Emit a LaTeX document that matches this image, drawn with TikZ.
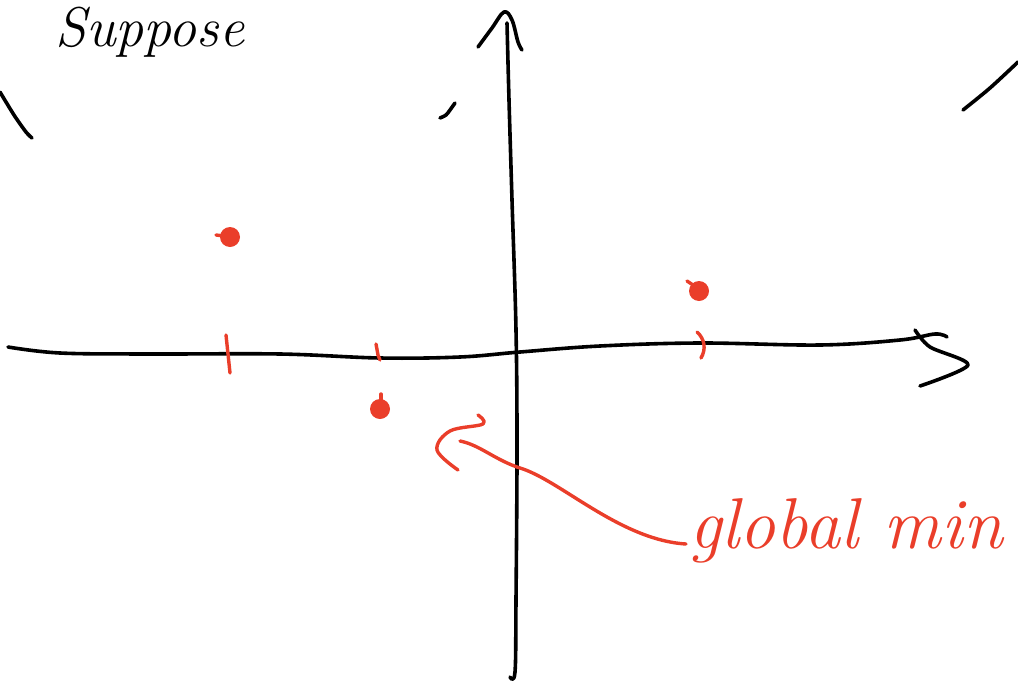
\documentclass[tikz,border=0pt]{standalone}
\usepackage{tikz}
\definecolor{inkred}{RGB}{234,62,42}
\usetikzlibrary{positioning}

\begin{document}
\begin{tikzpicture}[x=1pt, y=-1pt, line cap=round, line join=round,
  ink/.style={line width=3.6pt, black},
  redink/.style={line width=3.4pt, inkred}]
  \useasboundingbox (0,0) rectangle (1018,683);
  % Heading at the top
  \node[anchor=base west, font=\itshape\fontsize{56}{56}\selectfont] (title) at (52,46) {Suppose};
  % Stray strokes of the curve
  \draw[ink] plot[smooth] coordinates {(0,92) (14,115) (26,132) (32,138)};
  \draw[ink] plot[smooth] coordinates {(440,118) (446,115) (450,110) (455,103)};
  \draw[ink] plot[smooth] coordinates {(963,110) (990,88) (1018,62)};
  % Horizontal axis
  \draw[ink] plot[smooth, tension=0.6] coordinates {(8,347) (60,353) (150,354) (280,354) (380,358) (460,357) (520,352) (600,346) (700,343) (820,345) (900,340) (935,334) (947,337)};
  \draw[ink] plot[smooth, tension=0.5] coordinates {(915,330) (930,347) (968,365) (920,386)};
  % Vertical axis
  \draw[ink] plot[smooth, tension=0.6] coordinates {(510,677) (515,672) (516,600) (517,450) (516,330) (512,200) (509,100) (507,23)};
  \draw[ink] plot[smooth, tension=0.6] coordinates {(478,47) (492,28) (504,12) (512,20) (518,42) (522,50)};
  % Tick marks
  \draw[redink] (226,335) -- (230,373);
  \draw[redink] (376,344) -- (378,355) -- (380,360);
  \draw[redink] (697,332) to[bend left=40] (701,358);
  % Points
  \coordinate (p1) at (230,237);
  \coordinate (p2) at (380,409);
  \coordinate (p3) at (699,291);
  \foreach \p in {p1,p2,p3}
    \fill[inkred] (\p) circle[radius=10pt];
  \draw[redink] (p1) ++(-14,-2) -- ++(8,1);
  \draw[redink] (p3) ++(-12,-10) -- ++(6,4);
  \draw[redink] (p2) ++(1,-15) -- ++(0,6);
  % Label and arrow
  \node[anchor=base west, inkred, font=\itshape\fontsize{72}{72}\selectfont] (gmin) at (686,548) {global min};
  \coordinate (gtip) at (460,441);
  \draw[redink] (gmin.west |- 0,544) .. controls (620,540) and (560,480) .. (520,468)
    .. controls (495,460) and (480,445) .. (gtip);
  \draw[redink] plot[smooth, tension=0.6] coordinates {(478,415) (483,424) (450,431) (437,450) (458,470)};
\end{tikzpicture}
\end{document}
